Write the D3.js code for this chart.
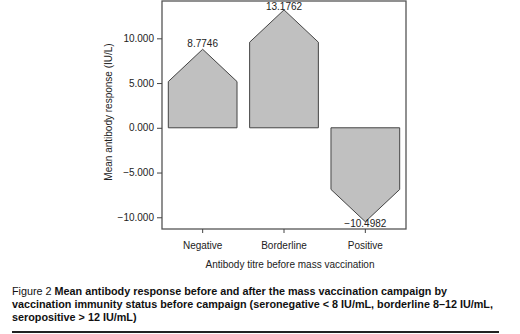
<!DOCTYPE html>
<html><head><meta charset="utf-8">
<script src="https://cdn.jsdelivr.net/npm/d3@7"></script>
<style>body{margin:0;background:#fff}svg{display:block;font-family:"Liberation Sans",Arial,sans-serif}</style>
</head><body><svg id="c" width="520" height="334"></svg>
<script>
const categories = ["Negative", "Borderline", "Positive"];
const meanResponse = [8.7746, 13.1762, -10.4982];
const valueLabels = ["8.7746", "13.1762", "\u221210.4982"];
const yTicks = [-10, -5, 0, 5, 10];
const yTickLabels = ["\u221210.000", "\u22125.000", "0.000", "5.000", "10.000"];
const yTitle = "Mean antibody response (IU/L)";
const xTitle = "Antibody titre before mass vaccination";
const captionLines = [
  [["Figure 2 ", false], ["Mean antibody response before and after the mass vaccination campaign by", true]],
  [["vaccination immunity status before campaign (seronegative < 8 IU/mL, borderline 8\u201312 IU/mL,", true]],
  [["seropositive > 12 IU/mL)", true]]
];

const svg = d3.select("#c");
const L = 162, R = 406, T = 1, B = 229;
const x = d3.scaleBand().domain(categories).range([L, R]).paddingInner(0.155).paddingOuter(0.0775);
const y = d3.scaleLinear().domain([-11.31, 14.17]).range([B, T]);
const txt = "#222";

svg.append("rect").attr("x", L).attr("y", T).attr("width", R - L).attr("height", B - T)
  .attr("fill", "none").attr("stroke", "#555").attr("stroke-width", 1.3);

const bw = x.bandwidth(), head = bw * 0.47;
const data = categories.map((c, i) => ({c, v: meanResponse[i], lab: valueLabels[i]}));
svg.append("g").selectAll("path").data(data).join("path")
  .attr("d", d => {
    const x0 = x(d.c), x1 = x0 + bw, xm = x0 + bw / 2;
    const y0 = y(0), yp = y(d.v);
    const ys = d.v >= 0 ? yp + head : yp - head;
    return `M${x0},${y0}L${x0},${ys}L${xm},${yp}L${x1},${ys}L${x1},${y0}Z`;
  })
  .attr("fill", "#c0c0c0").attr("stroke", "#444").attr("stroke-width", 1);

svg.append("g").selectAll("text").data(data).join("text")
  .attr("x", d => x(d.c) + bw / 2)
  .attr("y", d => d.v >= 0 ? Math.max(y(d.v) - 2, 10) : y(d.v) + 5)
  .attr("text-anchor", "middle").attr("font-size", 10).attr("fill", txt)
  .text(d => d.lab);

const yAxis = svg.append("g").attr("transform", `translate(${L},0)`)
  .call(d3.axisLeft(y).tickValues(yTicks).tickSize(5).tickPadding(3)
    .tickFormat((d, i) => yTickLabels[i]));
yAxis.select(".domain").remove();
yAxis.selectAll("line").attr("stroke", "#444");
yAxis.selectAll("text").attr("font-size", 10).attr("fill", txt).attr("font-family", null);

const xAxis = svg.append("g").attr("transform", `translate(0,${B})`)
  .call(d3.axisBottom(x).tickSize(4).tickPadding(9));
xAxis.select(".domain").remove();
xAxis.selectAll("line").attr("stroke", "#444");
xAxis.selectAll("text").attr("font-size", 10).attr("fill", txt).attr("font-family", null);

svg.append("text").attr("transform", `translate(112,${(T + B) / 2 - 3}) rotate(-90)`)
  .attr("text-anchor", "middle").attr("font-size", 10).attr("fill", txt).text(yTitle);
svg.append("text").attr("x", 290).attr("y", 268).attr("text-anchor", "middle")
  .attr("font-size", 10).attr("fill", txt).text(xTitle);

const cap = svg.append("g");
captionLines.forEach((line, i) => {
  const t = cap.append("text").attr("x", 12).attr("y", 295 + i * 13).attr("font-size", 10.8).attr("fill", "#111");
  line.forEach(([s, b]) => t.append("tspan").attr("font-weight", b ? "bold" : "normal").text(s));
});
svg.append("line").attr("x1", 12).attr("x2", 499).attr("y1", 332).attr("y2", 332)
  .attr("stroke", "#222").attr("stroke-width", 2);
</script></body></html>
